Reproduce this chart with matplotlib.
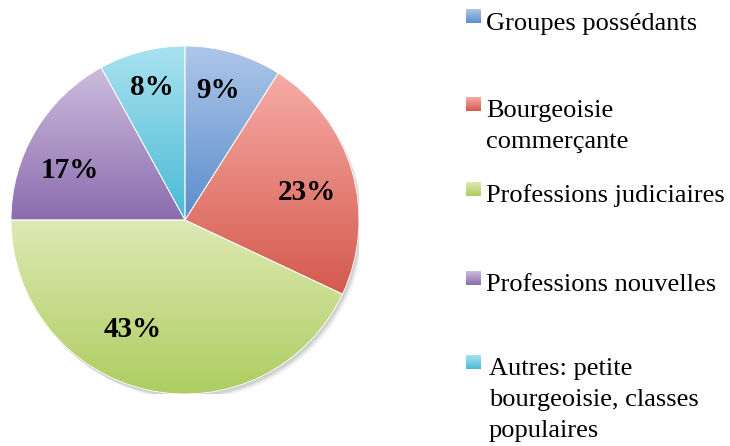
import numpy as np
import matplotlib
matplotlib.use("Agg")
import matplotlib.pyplot as plt
from matplotlib.patches import Circle
from matplotlib.colors import to_rgb

# ---- data ----
categories = ["Groupes possédants", "Bourgeoisie\ncommerçante", "Professions judiciaires",
              "Professions nouvelles", "Autres: petite\nbourgeoisie, classes\npopulaires"]
values = [9, 23, 43, 17, 8]
pct_labels = ["9%", "23%", "43%", "17%", "8%"]

# ---- style ----
top_colors = ["#AEC7E8", "#F6ACA6", "#DEE9B4", "#CDBCDE", "#AAE2EF"]
bot_colors = ["#5A8DCD", "#D4594D", "#ADCD60", "#8A6DAE", "#48BAD5"]
label_pos = [(0.19, 0.747), (0.70, 0.16), (-0.30, -0.632), (-0.661, 0.287), (-0.19, 0.76)]

W, H = 730, 446
fig = plt.figure(figsize=(W / 100, H / 100), dpi=100)
cx, cy, r = 185, 220, 174
ax = fig.add_axes([(cx - r) / W, (H - cy - r) / H, 2 * r / W, 2 * r / H])
ax.set_xlim(-1, 1)
ax.set_ylim(-1, 1)
ax.set_aspect("auto")
ax.axis("off")

# soft shadow
for dx, dy, a in [(0.010, -0.016, 0.10), (0.016, -0.022, 0.07), (0.022, -0.028, 0.05), (0.028, -0.034, 0.03)]:
    ax.add_patch(Circle((dx, dy), 1.0, facecolor="#404040", edgecolor="none", alpha=a, zorder=0))

wedges, _ = ax.pie(values, startangle=90, counterclock=False, radius=1.0,
                   wedgeprops=dict(facecolor="none", edgecolor="white", linewidth=0.6))
for w in wedges:
    w.set_zorder(3)


def grad(c1, c2, n=256):
    a = np.array(to_rgb(c1))
    b = np.array(to_rgb(c2))
    t = np.linspace(0, 1, n)[:, None]
    return (a * (1 - t) + b * t)[:, None, :]


for w, c1, c2 in zip(wedges, top_colors, bot_colors):
    bb = w.get_path().get_extents()
    im = ax.imshow(grad(c1, c2), extent=[bb.x0, bb.x1, bb.y0, bb.y1], origin="upper",
                   aspect="auto", zorder=2, interpolation="bilinear")
    im.set_clip_path(w)

ax.set_xlim(-1, 1)
ax.set_ylim(-1, 1)

for txt, (x, y) in zip(pct_labels, label_pos):
    ax.text(x, y, txt, ha="center", va="center", fontsize=21, fontweight="bold",
            family="Liberation Serif", color="black", zorder=5)

# ---- legend (manual) ----
marker_tops = [9, 97, 182, 271, 355]
baselines = [30, 117, 202, 291, 375]
text_x = [486, 486, 486, 486, 489]
line_step = 31
lax = fig.add_axes([0, 0, 1, 1])
lax.set_xlim(0, W)
lax.set_ylim(H, 0)
lax.axis("off")
for cat, c1, c2, mt, bl, tx in zip(categories, top_colors, bot_colors, marker_tops, baselines, text_x):
    lax.imshow(grad(c1, c2), extent=[466, 481, mt + 14, mt], origin="upper", aspect="auto",
               interpolation="bilinear")
    for i, line in enumerate(cat.split("\n")):
        lax.text(tx, bl + i * line_step, line, ha="left", va="baseline", fontsize=19,
                 family="Liberation Serif", color="black")
lax.set_xlim(0, W)
lax.set_ylim(H, 0)

fig.savefig("out.png", dpi=100)
